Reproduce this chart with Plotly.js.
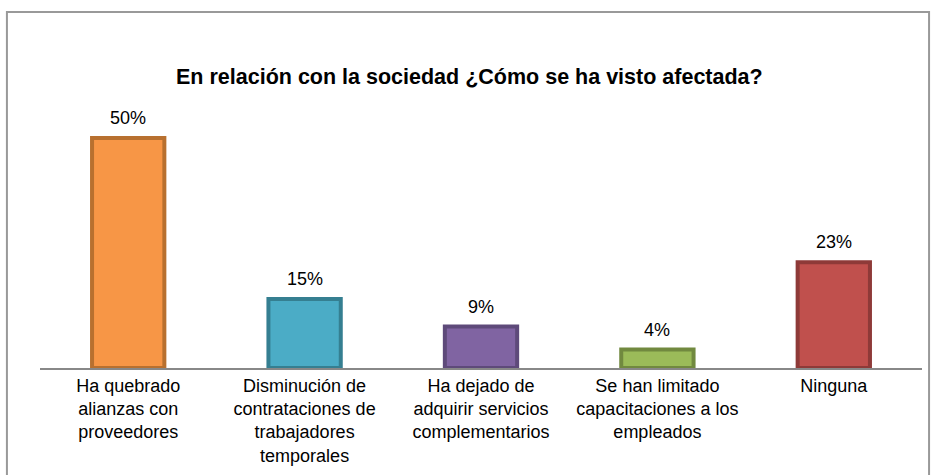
<!DOCTYPE html>
<html>
<head>
<meta charset="utf-8">
<script src="https://cdn.plot.ly/plotly-3.0.1.min.js"></script>
<style>html,body{margin:0;padding:0;background:#fff;}#chart{width:935px;height:475px;}</style>
</head>
<body>
<div id="chart"></div>
<script>
const categories = [
  "Ha quebrado<br>alianzas con<br>proveedores",
  "Disminución de<br>contrataciones de<br>trabajadores<br>temporales",
  "Ha dejado de<br>adquirir servicios<br>complementarios",
  "Se han limitado<br>capacitaciones a los<br>empleados",
  "Ninguna"
];
const values = [50, 15, 9, 4, 23];
const valueLabels = ["50%", "15%", "9%", "4%", "23%"];
const fillColors = ["#F79646", "#4BACC6", "#8064A2", "#9BBB59", "#C0504D"];
const lineColors = ["#B8702F", "#357F91", "#5E4A7A", "#71893F", "#8E3A38"];
const titleText = "En relación con la sociedad ¿Cómo se ha visto afectada?";

const FONT = '"Liberation Sans", Arial, sans-serif';

const trace = {
  type: 'bar',
  x: categories,
  y: values,
  marker: {color: fillColors, line: {color: lineColors, width: 4}},
  hoverinfo: 'none'
};

const annotations = categories.map((c, i) => ({
  x: c, y: values[i], xref: 'x', yref: 'y',
  text: valueLabels[i], showarrow: false,
  yanchor: 'bottom', yshift: 8,
  font: {family: FONT, size: 18, color: '#000'}
}));

const layout = {
  width: 935, height: 475,
  margin: {l: 40, r: 13, t: 92, b: 107},
  paper_bgcolor: '#fff', plot_bgcolor: '#fff',
  font: {family: FONT, size: 18, color: '#000'},
  bargap: 0.59,
  showlegend: false,
  title: {
    text: '<b>' + titleText + '</b>',
    font: {family: FONT, size: 21.5, color: '#000'},
    x: 0.502, xref: 'container', y: 0.838, yref: 'container', yanchor: 'middle', xanchor: 'center'
  },
  xaxis: {
    showline: true, linecolor: '#888888', linewidth: 2,
    ticks: '', showgrid: false, zeroline: false,
    tickfont: {family: FONT, size: 18, color: '#000'}
  },
  yaxis: {
    range: [0, 60], visible: false, showgrid: false, zeroline: false
  },
  annotations: annotations,
  shapes: [{
    type: 'rect', xref: 'paper', yref: 'paper',
    x0: -0.0375, x1: 1.008, y0: -0.45, y1: 1.29,
    line: {color: '#999999', width: 2}, fillcolor: 'rgba(0,0,0,0)', layer: 'below'
  }]
};

Plotly.newPlot('chart', [trace], layout, {displayModeBar: false, staticPlot: true});
</script>
</body>
</html>
